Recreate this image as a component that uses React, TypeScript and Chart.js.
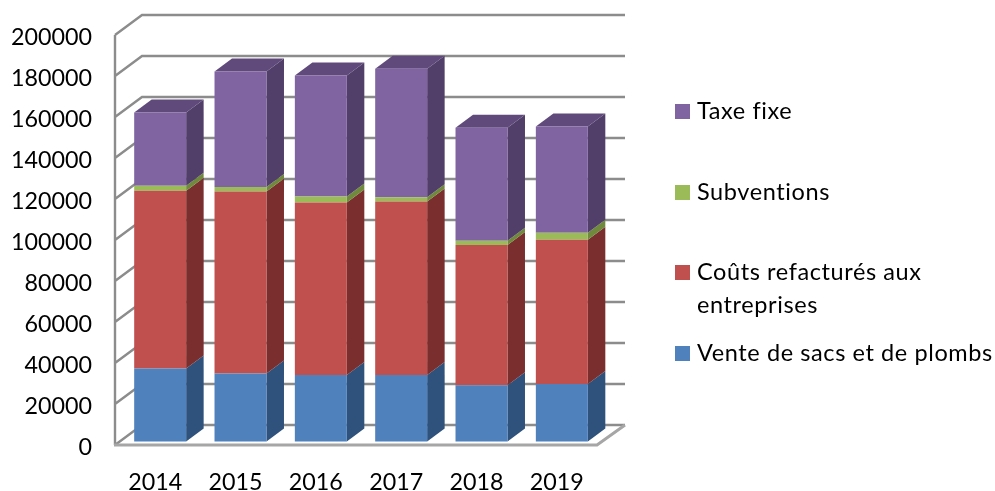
import React, { useEffect, useRef } from "react";
import { Chart, registerables } from "chart.js";

Chart.register(...registerables);

const years = ["2014", "2015", "2016", "2017", "2018", "2019"];
const venteSacs = [35600, 33200, 32400, 32400, 27500, 28100];
const coutsRefactures = [86700, 88800, 84200, 84700, 68400, 70300];
const subventions = [2400, 2100, 2900, 2100, 2000, 3400];
const taxeFixe = [35800, 56400, 59000, 62600, 55100, 51800];

const frontColors = ["#4F81BD", "#C0504D", "#9BBB59", "#8064A2"];
const sideColors = ["#2F527C", "#7A2F2E", "#6E8A3A", "#523F69"];
const topColor = "#604A7B";
const gridColor = "#8C8C8C";
const FONT = "Lato";

const WALL_DX = 27;
const WALL_DY = -20;
const BAR_DX = 5;
const BAR_DY = -3.5;
const SIDE_DX = 17.5;
const SIDE_DY = -13;

const legendEntries = [
  { lines: ["Taxe fixe"], color: frontColors[3], y: 111.5 },
  { lines: ["Subventions"], color: frontColors[2], y: 192.5 },
  { lines: ["Coûts refacturés aux", "entreprises"], color: frontColors[1], y: 272.5 },
  { lines: ["Vente de sacs et de plombs"], color: frontColors[0], y: 353.5 },
];

const poly = (ctx: CanvasRenderingContext2D, pts: number[][], fill: string) => {
  ctx.beginPath();
  pts.forEach(([x, y], i) => (i ? ctx.lineTo(x, y) : ctx.moveTo(x, y)));
  ctx.closePath();
  ctx.fillStyle = fill;
  ctx.fill();
};

const walls3d = {
  id: "walls3d",
  beforeDatasetsDraw(chart: any) {
    const { ctx, chartArea: a, scales } = chart;
    const y = scales.y;
    ctx.save();
    ctx.strokeStyle = gridColor;
    ctx.lineWidth = 2.4;
    ctx.lineCap = "butt";
    ctx.beginPath();
    y.ticks.forEach((t: any) => {
      const py = y.getPixelForValue(t.value);
      ctx.moveTo(a.left, py);
      ctx.lineTo(a.left + WALL_DX, py + WALL_DY);
      ctx.lineTo(a.right + WALL_DX + 1, py + WALL_DY);
    });
    ctx.moveTo(a.left, a.top);
    ctx.lineTo(a.left, a.bottom);
    ctx.stroke();
    ctx.strokeStyle = "#A6A6A6";
    ctx.lineWidth = 3;
    ctx.beginPath();
    ctx.moveTo(a.left - 1, a.bottom);
    ctx.lineTo(a.right, a.bottom);
    ctx.lineTo(a.right + WALL_DX + 1, a.bottom + WALL_DY);
    ctx.stroke();
    ctx.restore();

    // Bars share one plane, set slightly behind the front edge of the floor.
    ctx.save();
    ctx.translate(BAR_DX, BAR_DY);
    const n = chart.data.datasets.length;
    chart.data.datasets.forEach((_: any, di: number) => {
      chart.getDatasetMeta(di).data.forEach((bar: any) => {
        const p = bar.getProps(["x", "y", "base", "width"], true);
        const r = p.x + p.width / 2;
        const l = p.x - p.width / 2;
        poly(ctx, [[r, p.y], [r + SIDE_DX, p.y + SIDE_DY], [r + SIDE_DX, p.base + SIDE_DY], [r, p.base]], sideColors[di]);
        if (di === n - 1) {
          poly(ctx, [[l, p.y], [l + SIDE_DX, p.y + SIDE_DY], [r + SIDE_DX, p.y + SIDE_DY], [r, p.y]], topColor);
        }
      });
    });
    ctx.restore();

    ctx.save();
    ctx.translate(BAR_DX, BAR_DY);
  },
  afterDatasetsDraw(chart: any) {
    chart.ctx.restore();
  },
};

const sideLegend = {
  id: "sideLegend",
  afterDraw(chart: any) {
    const { ctx } = chart;
    ctx.save();
    ctx.font = `23.5px ${FONT}`;
    (ctx as any).letterSpacing = "0.6px";
    ctx.textBaseline = "middle";
    ctx.textAlign = "left";
    legendEntries.forEach((e) => {
      ctx.fillStyle = e.color;
      ctx.fillRect(675, e.y - 7.5, 15, 15);
      ctx.fillStyle = "#000000";
      e.lines.forEach((line, i) => ctx.fillText(line, 697, e.y + i * 33));
    });
    ctx.restore();
  },
};

export default function App() {
  const ref = useRef<HTMLCanvasElement>(null);
  useEffect(() => {
    const series = [venteSacs, coutsRefactures, subventions, taxeFixe];
    const names = ["Vente de sacs et de plombs", "Coûts refacturés aux entreprises", "Subventions", "Taxe fixe"];
    const chart = new Chart(ref.current!, {
      type: "bar",
      data: {
        labels: years,
        datasets: series.map((data, i) => ({
          label: names[i],
          data,
          backgroundColor: frontColors[i],
          borderWidth: 0,
          categoryPercentage: 1,
          barPercentage: 0.647,
          clip: false as any,
        })),
      },
      plugins: [walls3d, sideLegend],
      options: {
        responsive: false,
        animation: false,
        layout: { padding: { top: 35, right: 398, left: 0, bottom: 0 } },
        plugins: { legend: { display: false }, tooltip: { enabled: false } },
        scales: {
          x: {
            stacked: true,
            grid: { display: false },
            border: { display: false },
            ticks: { color: "#000", font: { family: FONT, size: 23.3 }, padding: 15, maxRotation: 0 },
            afterFit: (s: any) => {
              s.height = 46;
              s.paddingLeft = 0;
              s.paddingRight = 0;
            },
          },
          y: {
            stacked: true,
            min: 0,
            max: 200000,
            grid: { display: false },
            border: { display: false },
            ticks: {
              stepSize: 20000,
              color: "#000",
              font: { family: FONT, size: 23.3 },
              padding: 15,
              labelOffset: 2.5,
              callback: (v: any) => String(v),
            },
            afterFit: (s: any) => {
              s.width = 115;
              s.paddingTop = 0;
              s.paddingBottom = 0;
            },
          },
        },
      } as any,
    });
    return () => chart.destroy();
  }, []);
  return (
    <canvas
      ref={ref}
      width={995}
      height={491}
      style={{ position: "fixed", left: 0, top: 0, display: "block", background: "#fff" }}
    />
  );
}
